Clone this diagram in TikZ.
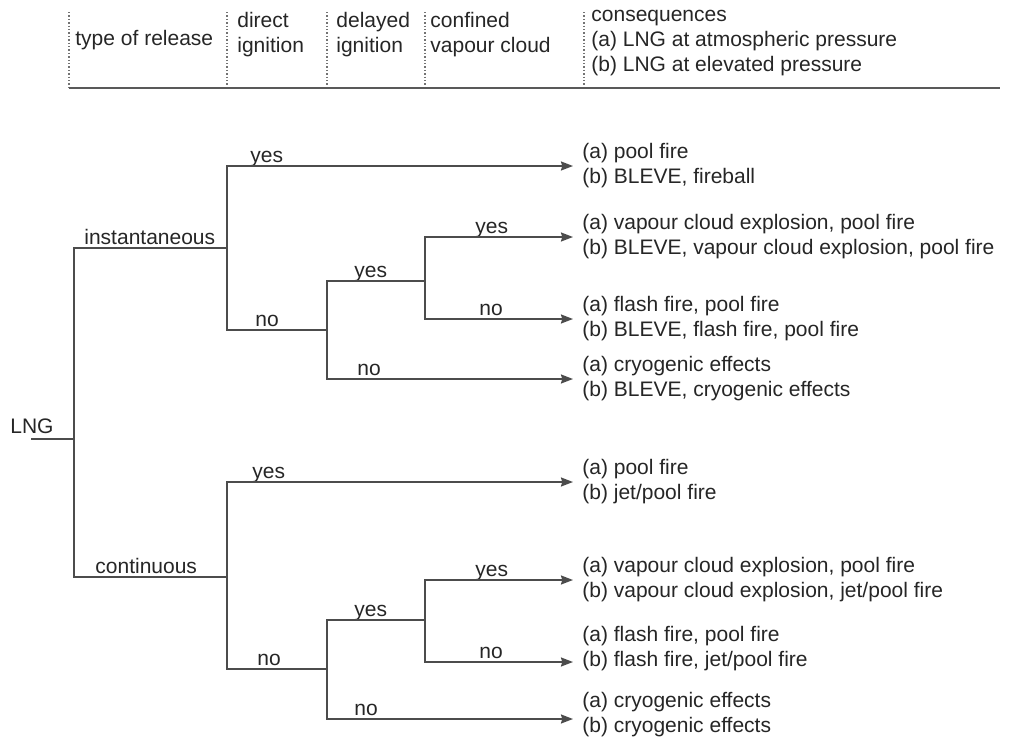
\documentclass[tikz,border=0pt]{standalone}
\usepackage{fontspec}
\setmainfont{Liberation Sans}
\usetikzlibrary{arrows.meta}

\begin{document}
\begin{tikzpicture}[
  x=0.5pt, y=-0.5pt,
  every node/.style={font=\fontsize{10.5}{12.5}\selectfont, text=black!85},
  line/.style={draw=black!70, line width=0.8pt},
  arr/.style={line, -{Stealth[length=6pt, width=4.5pt, inset=0.6pt]}},
  sep/.style={draw=black!55, densely dotted, line width=0.7pt},
  rule/.style={draw=black!65, line width=1.2pt},
  head/.style={anchor=base west, align=left, inner sep=0pt},
  lbl/.style={anchor=base west, inner sep=0pt},
  cons/.style={anchor=west, align=left, inner xsep=4.5pt, inner ysep=0pt}
]
\useasboundingbox[fill=white] (0,0) rectangle (1014,740);

% Header
\coordinate (hl) at (69,88);
\coordinate (hr) at (1000,88);
\foreach \x in {69,227,327,425,584}
  \draw[sep] (\x,12) -- (\x,88);
\draw[rule] (hl) -- (hr);

% (base of a multi-line node = its last line)
\node[head] (hrel) at (75,45) {type of release};
\node[head] (hdir) at (237,52) {direct\\ignition};
\node[head] (hdel) at (336,52) {delayed\\ignition};
\node[head] (hconf) at (430,52) {confined\\vapour cloud};
\node[head] (hcons) at (591,71)
  {consequences\\(a) LNG at atmospheric pressure\\(b) LNG at elevated pressure};

% Branch points
\coordinate (root) at (31,439);
\coordinate (rel) at (74,439);
\coordinate (di) at (227,248);
\coordinate (dc) at (227,577);
\coordinate (li) at (327,330);
\coordinate (lc) at (327,669);
\coordinate (ci) at (425,281);
\coordinate (cc) at (425,620);

\node[lbl] (lng) at (10,433) {LNG};

% Consequences
\node[cons] (c1) at (573,166) {(a) pool fire\\(b) BLEVE, fireball};
\node[cons] (c2) at (573,237)
  {(a) vapour cloud explosion, pool fire\\(b) BLEVE, vapour cloud explosion, pool fire};
\node[cons] (c3) at (573,319) {(a) flash fire, pool fire\\(b) BLEVE, flash fire, pool fire};
\node[cons] (c4) at (573,379) {(a) cryogenic effects\\(b) BLEVE, cryogenic effects};
\node[cons] (c5) at (573,482) {(a) pool fire\\(b) jet/pool fire};
\node[cons] (c6) at (573,580)
  {(a) vapour cloud explosion, pool fire\\(b) vapour cloud explosion, jet/pool fire};
\node[cons] (c7) at (573,649) {(a) flash fire, pool fire\\(b) flash fire, jet/pool fire};
\node[cons] (c8) at (573,715) {(a) cryogenic effects\\(b) cryogenic effects};

% Branch labels
\node[lbl] (linst) at (84,244) {instantaneous};
\node[lbl] (lcont) at (95,573) {continuous};
\node[lbl] (y1) at (250,162) {yes};
\node[lbl] (n1) at (255,326) {no};
\node[lbl] (y2) at (354,277) {yes};
\node[lbl] (y3) at (475,233) {yes};
\node[lbl] (n3) at (479,315) {no};
\node[lbl] (n2) at (357,375) {no};
\node[lbl] (y4) at (252,478) {yes};
\node[lbl] (n4) at (257,665) {no};
\node[lbl] (y5) at (354,616) {yes};
\node[lbl] (y6) at (475,576) {yes};
\node[lbl] (n6) at (479,658) {no};
\node[lbl] (n5) at (354,715) {no};

% Tree
\draw[line] (root) -- (rel);
\draw[line] (rel) |- (di);
\draw[line] (rel) |- (dc);

\draw[arr] (di) |- (c1.west);
\draw[line] (di) |- (li);
\draw[line] (li) |- (ci);
\draw[arr] (ci) |- (c2.west);
\draw[arr] (ci) |- (c3.west);
\draw[arr] (li) |- (c4.west);

\draw[arr] (dc) |- (c5.west);
\draw[line] (dc) |- (lc);
\draw[line] (lc) |- (cc);
\draw[arr] (cc) |- (c6.west);
\draw[arr] (cc) |- ([yshift=-6.5pt]c7.west);
\draw[arr] (lc) |- ([yshift=-2pt]c8.west);

\end{tikzpicture}
\end{document}
